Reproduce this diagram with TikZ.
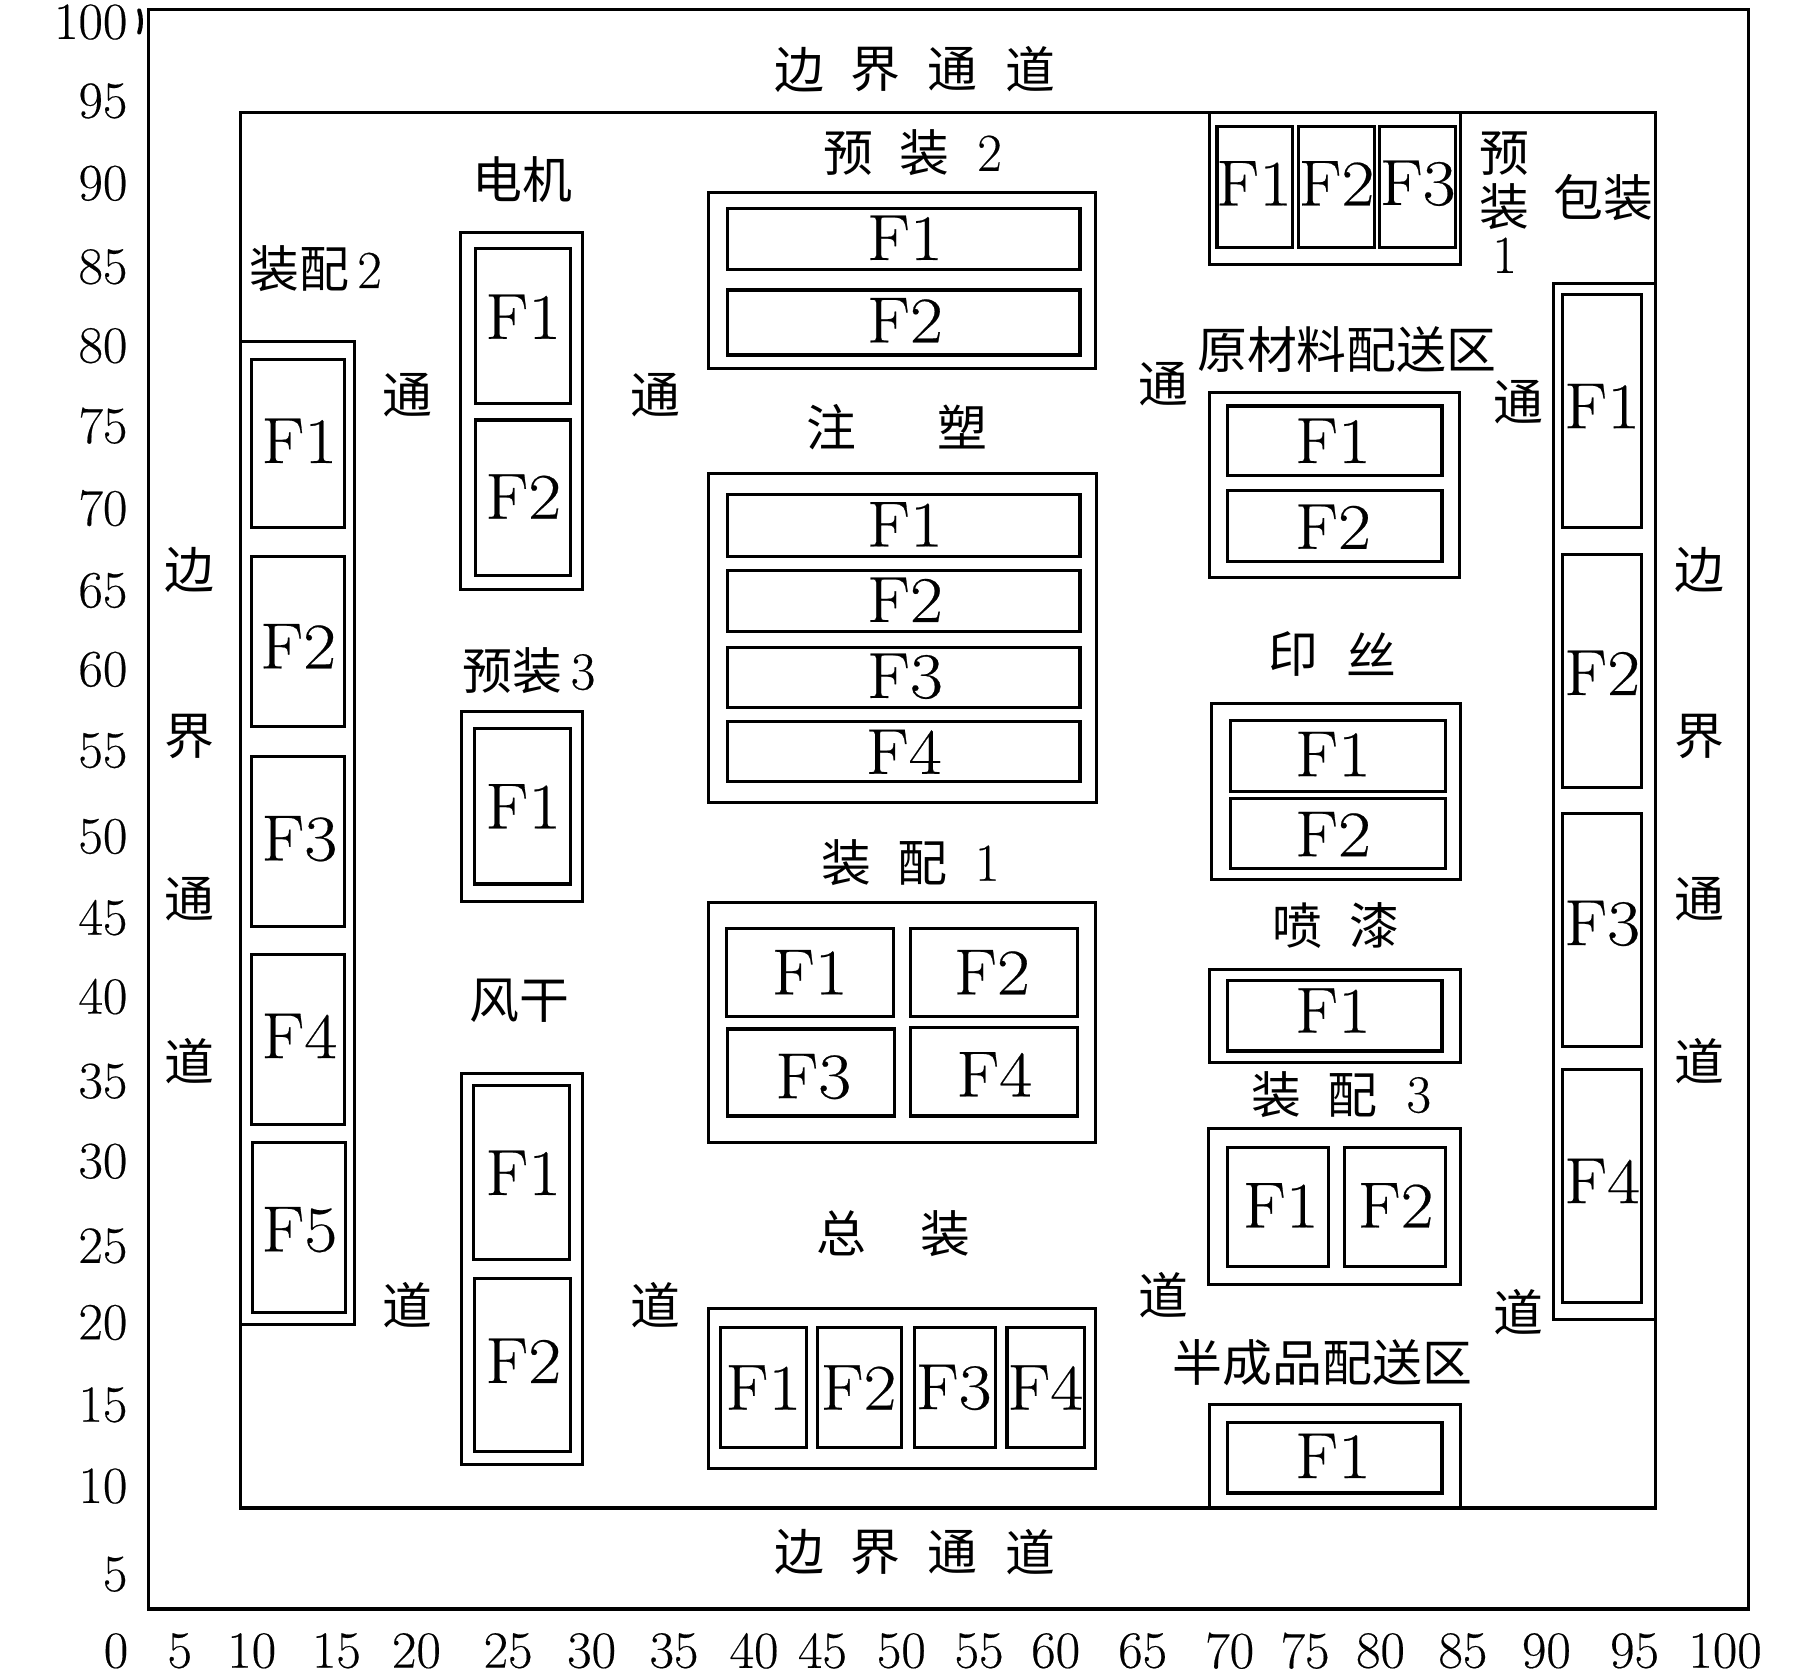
\documentclass[tikz,border=0pt]{standalone}
\usepackage{fontspec}
\setmainfont{Latin Modern Roman}[FakeBold=0.35]
\newfontfamily\cjk{Noto Sans CJK SC}
\newcommand\ucell[8]{% name x1 y1 x2 y2 tx ty label
  \draw[cellbox] (#2,#3) rectangle (#4,#5);
  \node[flabel] (#1) at (#6,#7) {\scalebox{1.1}[1]{#8}};}
\newcommand\zone[5]{\draw[zonebox] (#2,#3) rectangle (#4,#5) coordinate (#1);}
\newcommand\han[4]{\node[hanlabel] (#1) at (#2,#3) {#4};}
\tikzset{
  cellbox/.style={draw=black,line width=2.7pt,fill=white},
  zonebox/.style={draw=black,line width=2.6pt},
  frame/.style={draw=black,line width=2.8pt},
  flabel/.style={inner sep=0pt,font=\fontsize{56}{56}\selectfont},
  hanlabel/.style={inner sep=0pt,font=\cjk\fontsize{43}{43}\selectfont},
  numlabel/.style={inner sep=0pt,font=\fontsize{45}{45}\selectfont},
  sidelabel/.style={inner sep=0pt,font=\fontsize{46}{46}\selectfont},
}
\begin{document}
\begin{tikzpicture}[x=1pt,y=-1pt]
\useasboundingbox (0,0) rectangle (1568,1443);
\fill[white] (0,0) rectangle (1568,1443);
% frames
\draw[frame] (128,8) rectangle (1507,1387);
\draw[frame] (207,97) rectangle (1427,1300);
\draw[line width=3.5pt,line cap=round] (120,9) .. controls (122,15) and (122,22) .. (120,28);
% zones
\zone{zz2}{207}{294}{306}{1142}
\zone{zdj}{397}{200}{502}{508}
\zone{zy3}{398}{613}{502}{777}
\zone{zfg}{398}{925}{502}{1262}
\zone{zy2}{611}{166}{944}{318}
\zone{zzs}{611}{408}{945}{692}
\zone{zz1}{611}{778}{944}{985}
\zone{zzz}{611}{1128}{944}{1266}
\zone{zy1}{1043}{97}{1259}{228}
\zone{zyc}{1043}{338}{1258}{498}
\zone{zys}{1044}{606}{1259}{758}
\zone{zpq}{1043}{836}{1259}{916}
\zone{zz3}{1042}{973}{1259}{1107}
\zone{zbc}{1043}{1211}{1259}{1300}
\zone{zbz}{1339}{244}{1427}{1137}
% 装配2
\ucell{a1}{217}{310}{297}{455}{258}{380}{F1}
\ucell{a2}{217}{480}{297}{626}{257}{557}{F2}
\ucell{a3}{217}{652}{297}{799}{258}{723}{F3}
\ucell{a4}{217}{823}{297}{969}{258}{893}{F4}
\ucell{a5}{218}{985}{298}{1131}{258}{1060}{F5}
% 电机
\ucell{b1}{410}{214}{492}{348}{451}{273}{F1}
\ucell{b2}{410}{362}{492}{496}{451}{428}{F2}
% 预装3
\ucell{c1}{409}{628}{492}{762}{451}{695}{F1}
% 风干
\ucell{d1}{408}{936}{491}{1086}{451}{1011}{F1}
\ucell{d2}{409}{1102}{492}{1251}{451}{1173}{F2}
% 预装2
\ucell{e1}{627}{180}{931}{232}{780}{205}{F1}
\ucell{e2}{627}{250}{931}{306}{780}{276}{F2}
% 注塑
\ucell{f1}{627}{426}{931}{480}{780}{452}{F1}
\ucell{f2}{627}{492}{931}{544}{780}{517}{F2}
\ucell{f3}{627}{558}{931}{610}{780}{583}{F3}
\ucell{f4}{627}{622}{931}{674}{779}{648}{F4}
% 装配1
\ucell{g1}{626}{800}{770}{876}{698}{838}{F1}
\ucell{g2}{785}{800}{929}{876}{855}{838}{F2}
\ucell{g3}{627}{887}{771}{962}{701}{928}{F3}
\ucell{g4}{785}{886}{929}{962}{857}{926}{F4}
% 总装
\ucell{h1}{621}{1144}{695}{1248}{658}{1196}{F1}
\ucell{h2}{705}{1144}{777}{1248}{740}{1196}{F2}
\ucell{h3}{788}{1144}{858}{1248}{822}{1196}{F3}
\ucell{h4}{868}{1144}{935}{1248}{901}{1196}{F4}
% 预装1
\ucell{i1}{1049}{109}{1114}{213}{1081}{158}{F1}
\ucell{i2}{1119}{109}{1185}{213}{1152}{158}{F2}
\ucell{i3}{1189}{109}{1255}{213}{1222}{158}{F3}
% 原材料配送区
\ucell{j1}{1058}{350}{1243}{410}{1149}{380}{F1}
\ucell{j2}{1058}{423}{1243}{484}{1149}{454}{F2}
% 印丝
\ucell{k1}{1061}{621}{1246}{682}{1149}{650}{F1}
\ucell{k2}{1061}{688}{1246}{749}{1149}{719}{F2}
% 喷漆
\ucell{l1}{1058}{845}{1243}{906}{1149}{871}{F1}
% 装配3
\ucell{m1}{1058}{989}{1145}{1092}{1104}{1039}{F1}
\ucell{m2}{1159}{989}{1246}{1092}{1203}{1039}{F2}
% 半成品配送区
\ucell{n1}{1058}{1226}{1243}{1287}{1149}{1255}{F1}
% 包装
\ucell{o1}{1347}{254}{1415}{455}{1381}{350}{F1}
\ucell{o2}{1347}{478}{1415}{679}{1381}{580}{F2}
\ucell{o3}{1347}{701}{1415}{902}{1381}{796}{F3}
\ucell{o4}{1347}{922}{1415}{1123}{1381}{1018}{F4}
% y ticks
\foreach \v/\yy in {100/19,95/87,90/158,85/230,80/298,75/367,70/438,65/509,60/577,55/647,50/721,45/791,40/859,35/932,30/1001,25/1074,20/1140,15/1211,10/1281,5/1357}
  \node[numlabel,anchor=east] (y\v) at (110,\yy) {\scalebox{1.02}[1]{\v}};
% x ticks
\foreach \v/\xx in {0/100,5/155,10/217,15/290,20/359,25/438,30/510,35/581,40/650,45/709,50/777,55/844,60/910,65/985,70/1060,75/1125,80/1190,85/1261,90/1333,95/1409,100/1487}
  \node[numlabel] (x\v) at (\xx,1423) {\scalebox{1.02}[1]{\v}};
% 边界通道
\han{t1}{689}{60}{边}\han{t2}{755}{60}{界}\han{t3}{821}{60}{通}\han{t4}{888}{60}{道}
\han{u1}{689}{1338}{边}\han{u2}{755}{1338}{界}\han{u3}{821}{1338}{通}\han{u4}{888}{1338}{道}
\han{v1}{163}{491}{边}\han{v2}{163}{635}{界}\han{v3}{163}{775}{通}\han{v4}{163}{915}{道}
\han{w1}{1465}{491}{边}\han{w2}{1465}{635}{界}\han{w3}{1465}{775}{通}\han{w4}{1465}{915}{道}
% 通道
\han{p1}{351}{341}{通}\han{p2}{351}{1125}{道}
\han{q1}{565}{341}{通}\han{q2}{565}{1125}{道}
\han{r1}{1003}{331}{通}\han{r2}{1003}{1116}{道}
\han{s1}{1309}{347}{通}\han{s2}{1309}{1131}{道}
% titles
\han{ta}{450}{155}{电机}
\han{tb}{272}{232}{装配\,\rmfamily\fontsize{46}{46}\selectfont 2}
\han{tc}{456}{578}{预装\,\rmfamily\fontsize{46}{46}\selectfont 3}
\han{td}{448}{863}{风干}
\han{te1}{731}{132}{预}\han{te2}{797}{132}{装}\node[sidelabel] (te3) at (853,132) {2};
\han{tf1}{717}{368}{注}\han{tf2}{830}{368}{塑}
\han{tg1}{730}{744}{装}\han{tg2}{795}{744}{配}\node[sidelabel] (tg3) at (851,744) {1};
\han{th1}{725}{1063}{总}\han{th2}{815}{1063}{装}
\han{ti1}{1297}{132}{预}\han{ti2}{1297}{178}{装}\node[sidelabel] (ti3) at (1297,220) {1};
\han{tj}{1382}{170}{包装}
\han{tk}{1161}{301}{原材料配送区}
\han{tl1}{1115}{564}{印}\han{tl2}{1182}{564}{丝}
\han{tm1}{1118}{798}{喷}\han{tm2}{1185}{798}{漆}
\han{tn1}{1100}{944}{装}\han{tn2}{1166}{944}{配}\node[sidelabel] (tn3) at (1223,944) {3};
\han{to}{1140}{1175}{半成品配送区}
\end{tikzpicture}
\end{document}
